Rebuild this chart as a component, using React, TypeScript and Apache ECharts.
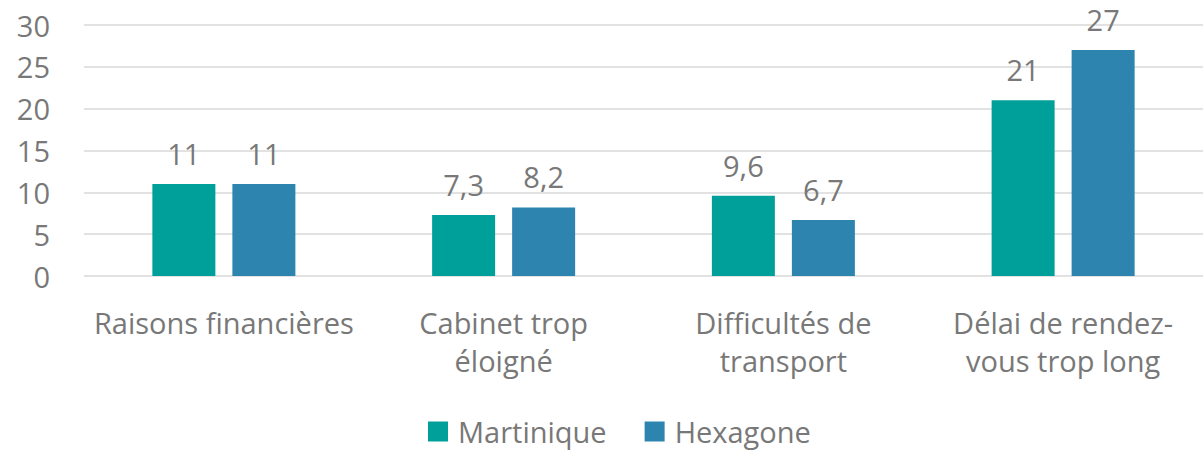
import React, { useEffect, useRef } from "react";
import * as echarts from "echarts";

const categories = [
  "Raisons financières",
  "Cabinet trop\néloigné",
  "Difficultés de\ntransport",
  "Délai de rendez-\nvous trop long",
];
const martinique = [11, 7.3, 9.6, 21];
const hexagone = [11, 8.2, 6.7, 27];
const yTicks = { min: 0, max: 30, interval: 5 };

const FONT = "'Open Sans', 'Noto Sans', sans-serif";
const TEXT = "#787878";
const FS = 29;

export default function App() {
  const ref = useRef<HTMLDivElement>(null);
  useEffect(() => {
    document.body.style.margin = "0";
    const chart = echarts.init(ref.current!, null, { renderer: "svg" });
    const fmt = (p: any) => String(p.value).replace(".", ",");
    const label = {
      show: true,
      position: "top" as const,
      distance: 16,
      color: TEXT,
      fontSize: FS,
      fontFamily: FONT,
      formatter: fmt,
    };
    chart.setOption({
      animation: false,
      textStyle: { fontFamily: FONT },
      grid: { left: 84, right: 1, top: 25, bottom: 179, containLabel: false },
      legend: {
        bottom: 4,
        left: 423,
        itemWidth: 20,
        itemHeight: 20,
        itemGap: 38,
        icon: "rect",
        textStyle: { color: TEXT, fontSize: FS, fontFamily: FONT, padding: [0, 0, 0, 5] },
        data: ["Martinique", "Hexagone"],
      },
      xAxis: {
        type: "category",
        data: categories,
        axisLine: { show: false },
        axisTick: { show: false },
        axisLabel: {
          color: TEXT,
          fontSize: FS,
          fontFamily: FONT,
          lineHeight: 38,
          margin: 27,
          interval: 0,
        },
      },
      yAxis: {
        type: "value",
        min: yTicks.min,
        max: yTicks.max,
        interval: yTicks.interval,
        axisLabel: { color: TEXT, fontSize: FS, fontFamily: FONT, margin: 34 },
        splitLine: { lineStyle: { color: "#d9d9d9", width: 1.5 } },
        axisLine: { show: false },
        axisTick: { show: false },
      },
      series: [
        {
          name: "Martinique",
          type: "bar",
          data: martinique,
          barWidth: 63,
          barGap: "27%",
          itemStyle: { color: "#00A09A" },
          label,
        },
        {
          name: "Hexagone",
          type: "bar",
          data: hexagone,
          barWidth: 63,
          itemStyle: { color: "#2C84AF" },
          label,
        },
      ],
    });
    return () => chart.dispose();
  }, []);
  return <div ref={ref} style={{ width: 1204, height: 455 }} />;
}
